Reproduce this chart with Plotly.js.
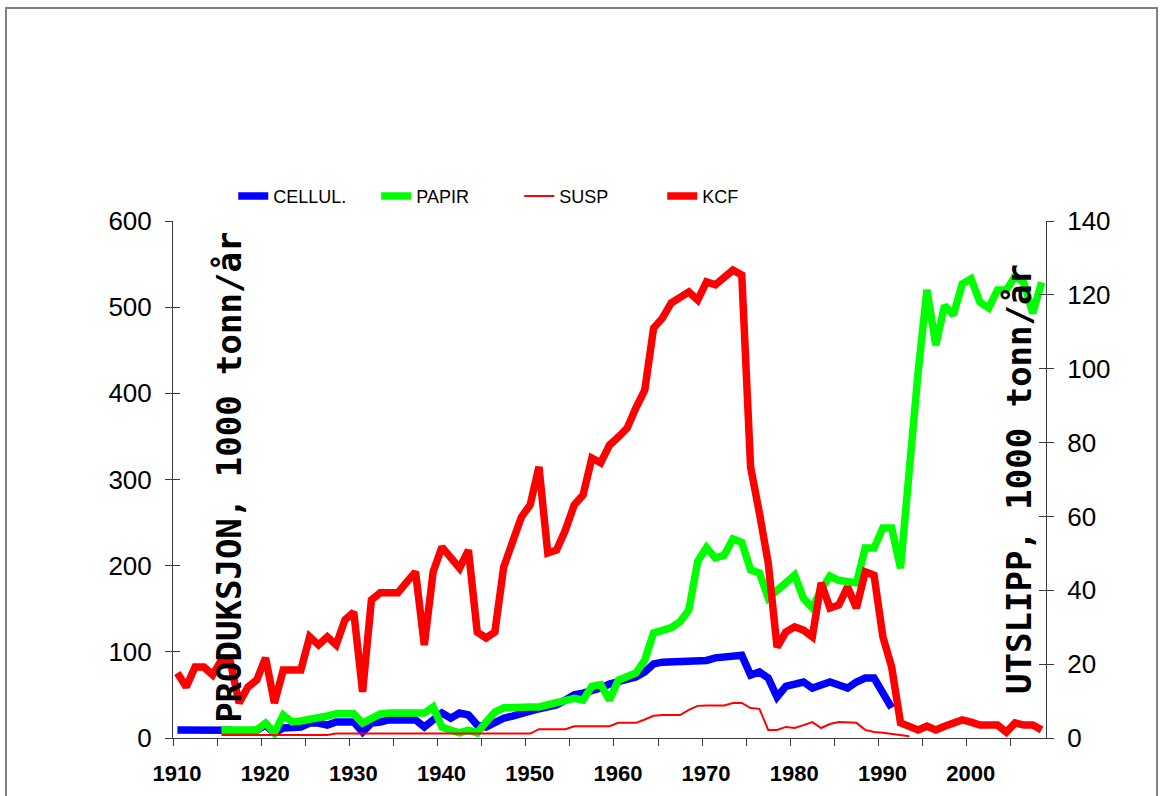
<!DOCTYPE html>
<html>
<head>
<meta charset="utf-8">
<script src="https://cdn.plot.ly/plotly-3.0.1.min.js"></script>
<style>
  html, body { margin: 0; padding: 0; background: #ffffff; }
  #chart { width: 1163px; height: 796px; }
</style>
</head>
<body>
<div id="chart"></div>
<script>
// ---- data ----
const years = [1910,1911,1912,1913,1914,1915,1916,1917,1918,1919,
  1920,1921,1922,1923,1924,1925,1926,1927,1928,1929,
  1930,1931,1932,1933,1934,1935,1936,1937,1938,1939,
  1940,1941,1942,1943,1944,1945,1946,1947,1948,1949,
  1950,1951,1952,1953,1954,1955,1956,1957,1958,1959,
  1960,1961,1962,1963,1964,1965,1966,1967,1968,1969,
  1970,1971,1972,1973,1974,1975,1976,1977,1978,1979,
  1980,1981,1982,1983,1984,1985,1986,1987,1988,1989,
  1990,1991,1992,1993,1994,1995,1996,1997,1998,1999,
  2000,2001,2002,2003,2004,2005,2006,2007,2008];

// Production, 1000 tonn/år (left axis)
const cellul = [9.3,9.3,9.3,9.3,9.3,9.3,9,7,9,9,
  15,6,11.6,12.8,12.8,17.4,17.4,15,18.6,18.6,
  18.6,7,17.4,18.6,21,21,21,21,12.8,21,
  29,23,29,26.7,15,12.8,18.6,23,25.5,29,
  31.3,33.7,36,38.3,44,50,52,54.5,58,62.7,
  66,68.5,70.8,76.6,86,88,88,88,88,88,
  90,93,94,96,96,73,76.6,69.6,47.6,60,
  61.5,65,58,61.5,65,61.5,58,65,69.6,69.6,
  52,35,null,null,null,null,null,null,null,null,
  null,null,null,null,null,null,null,null,null];

const papir = [null,null,null,null,null,9.3,9,8,8,9.3,
  17.4,6,26.7,18.6,19.7,21,22,25.5,28,28,
  28,17.4,23,28,29,30,29,29,29,36,
  12.8,9,6,9,6,18.6,30,35,36,36,
  36,36,38,42,44,46,44,60,62,44,
  67,70.8,75.4,90.5,122,125,128,135,148.5,205,
  221,209,212,231,227,195,191.5,162.5,171.7,181,
  189,162,151,172,188,183,181,180,220.5,220.5,
  243.7,243.7,197,317,425,520,456,502,491,527,
  533,506,499,520,520,536,528,493,529];

// Emissions, 1000 tonn/år (right axis)
const susp = [null,null,null,null,null,0.8,0.8,0.8,0.8,0.8,
  0.8,0.8,0.8,0.8,0.8,0.8,0.8,0.8,1.2,1.2,
  1.2,1.2,1.2,1.2,1.2,1.2,1.2,1.2,1.2,1.2,
  1.2,1.2,1.2,1.2,1.2,1.2,1.2,1.2,1.2,1.2,
  1.2,2.4,2.4,2.4,2.4,3.2,3.2,3.2,3.2,3.2,
  4.1,4.1,4.1,5,6,6.2,6.2,6.2,7.6,8.7,
  8.8,8.8,8.8,9.5,9.5,8.1,7.9,2.2,2.2,3,
  2.7,3.5,4.3,2.7,3.8,4.3,4.1,4.1,2.2,1.6,
  1.4,1.1,0.8,0.5,null,null,null,null,null,null,
  null,null,null,null,null,null,null,null,null];

const kcf = [17.6,13.8,19.2,19.2,17.1,21.1,20.6,9.5,13.8,15.7,
  21.7,9.5,18.4,18.4,18.4,27.4,25.2,27.4,25.2,32,
  34.1,12.5,37.4,39.3,39.3,39.3,42.2,45,25.2,45,
  51.7,49,46,50.9,28.7,27.1,28.7,46.3,53.6,59.8,
  63.1,73.4,50.1,50.9,56.3,63.1,65.8,75.8,74.5,79.3,
  81.5,83.9,89.4,94.2,111,113.7,117.8,119.4,120.8,118.6,
  123.5,122.7,124.8,126.7,125.4,73.4,60.9,47.4,24.6,28.7,
  30.1,29.2,27.4,42,35.2,36,40.9,35.2,45,44.1,
  27.4,19.2,4.1,3,2.2,3.2,2.2,3.2,4,4.9,
  4.3,3.5,3.5,3.5,1.6,4.1,3.5,3.5,2.2];

const seriesNames = ['CELLUL.', 'PAPIR', 'SUSP', 'KCF'];
const xTickLabels = ['1910','1920','1930','1940','1950','1960','1970','1980','1990','2000'];
const leftTitle = 'PRODUKSJON, 1000 tonn/år';
const rightTitle = 'UTSLIPP, 1000 tonn/år';

// ---- chart ----
// ticks sit between categories every 5 years; labels sit on the decade categories
const tickPos = [];
const tickText = [];
for (let i = 0; i < 20; i++) {
  tickPos.push(1909.5 + 5 * i);
  tickText.push(i % 2 === 0 ? xTickLabels[i / 2] : '');
}

const sans = 'Liberation Sans, Arial, sans-serif';
const mono = 'DejaVu Sans Mono, Liberation Mono, monospace';
const axisColor = '#3a3a3a';

const traces = [
  { x: years, y: cellul, name: seriesNames[0], type: 'scatter', mode: 'lines',
    line: { color: '#0000ff', width: 7.5 }, yaxis: 'y' },
  { x: years, y: papir, name: seriesNames[1], type: 'scatter', mode: 'lines',
    line: { color: '#00ff00', width: 7.5 }, yaxis: 'y' },
  { x: years, y: susp, name: seriesNames[2], type: 'scatter', mode: 'lines',
    line: { color: '#ff0000', width: 2 }, yaxis: 'y2' },
  { x: years, y: kcf, name: seriesNames[3], type: 'scatter', mode: 'lines',
    line: { color: '#ff0000', width: 7.5 }, yaxis: 'y2' },
  // carriers for the inner halves of the crossing tick marks
  { x: [], y: [], yaxis: 'y3', showlegend: false, hoverinfo: 'skip', type: 'scatter' },
  { x: [], y: [], yaxis: 'y4', showlegend: false, hoverinfo: 'skip', type: 'scatter' }
];

const yCommon = {
  showgrid: false, zeroline: false, showline: true, linecolor: axisColor, linewidth: 1,
  ticks: 'outside', ticklen: 7, tickwidth: 1, tickcolor: axisColor,
  tickfont: { family: sans, size: 26, color: '#000' }, ticklabelstandoff: 8
};

const layout = {
  width: 1163, height: 796,
  margin: { l: 173, r: 117, t: 221, b: 58, pad: 0 },
  paper_bgcolor: '#ffffff', plot_bgcolor: '#ffffff',
  showlegend: true,
  legend: {
    orientation: 'h', x: 0.069, y: 1.048, xanchor: 'left', yanchor: 'middle',
    font: { family: sans, size: 18, color: '#000' },
    bgcolor: 'rgba(0,0,0,0)', traceorder: 'normal', itemwidth: 30,
    entrywidth: 98, entrywidthmode: 'pixels'
  },
  xaxis: {
    range: [1909.5, 2008.5], showgrid: false, zeroline: false,
    showline: true, linecolor: axisColor, linewidth: 1,
    tickmode: 'array', tickvals: tickPos, ticktext: tickText,
    ticks: 'outside', ticklen: 7, tickcolor: axisColor, ticklabelshift: 4,
    tickfont: { family: sans, size: 22, color: '#000', weight: 'bold' },
    ticklabelstandoff: 9
  },
  yaxis: Object.assign({}, yCommon, { range: [0, 600], dtick: 100, tick0: 0, side: 'left' }),
  yaxis2: Object.assign({}, yCommon, { range: [0, 140], dtick: 20, tick0: 0, side: 'right',
    overlaying: 'y', anchor: 'x' }),
  yaxis3: { range: [0, 600], dtick: 100, tick0: 0, side: 'left', overlaying: 'y', anchor: 'x',
    showgrid: false, zeroline: false, showline: false, ticks: 'inside', ticklen: 7,
    tickcolor: axisColor, showticklabels: false },
  yaxis4: { range: [0, 140], dtick: 20, tick0: 0, side: 'right', overlaying: 'y', anchor: 'x',
    showgrid: false, zeroline: false, showline: false, ticks: 'inside', ticklen: 7,
    tickcolor: axisColor, showticklabels: false },
  annotations: [
    { text: leftTitle, xref: 'paper', yref: 'paper', x: 0.0641, y: 0.505,
      xanchor: 'center', yanchor: 'middle', textangle: -90, showarrow: false,
      font: { family: mono, size: 34, color: '#000', weight: 'bold' } },
    { text: rightTitle, xref: 'paper', yref: 'paper', x: 0.969, y: 0.501,
      xanchor: 'center', yanchor: 'middle', textangle: -90, showarrow: false,
      font: { family: mono, size: 34, color: '#000', weight: 'bold' } }
  ],
  shapes: [
    { type: 'rect', xref: 'paper', yref: 'paper',
      x0: -0.1913, x1: 1.1272, y0: -0.13, y1: 1.412,
      line: { color: '#808080', width: 2 }, fillcolor: 'rgba(0,0,0,0)', layer: 'below' }
  ]
};

Plotly.newPlot('chart', traces, layout, { staticPlot: true, displayModeBar: false });
</script>
</body>
</html>
